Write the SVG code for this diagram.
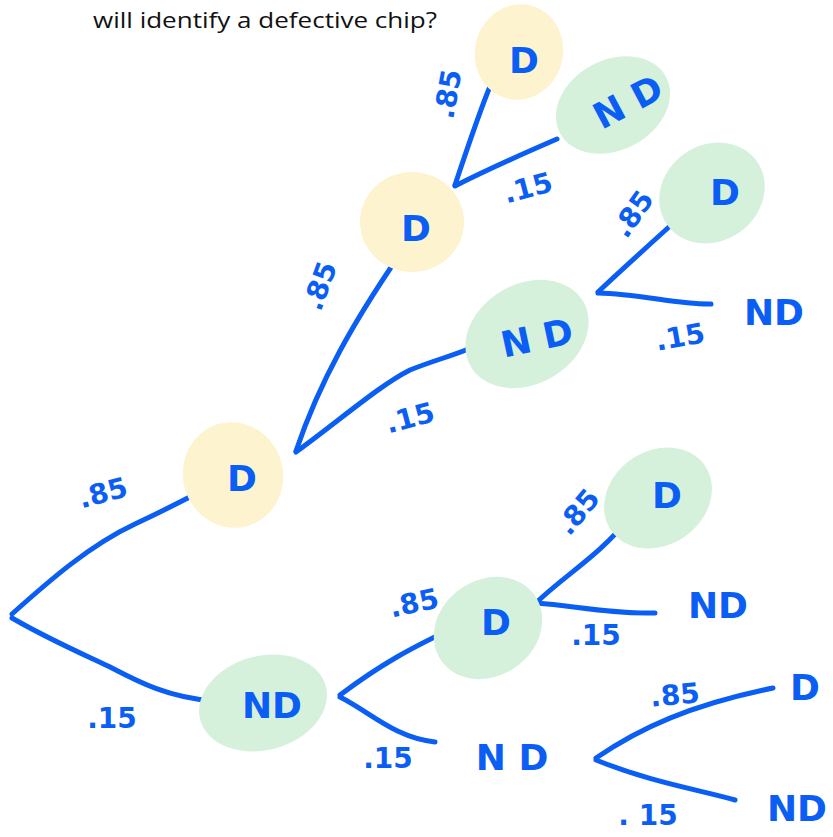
<svg xmlns="http://www.w3.org/2000/svg" width="833" height="837" viewBox="0 0 833 837">
<style>
.y{fill:#fdf3cf}
.g{fill:#d5f1dc}
.c{fill:none;stroke:#0a5ef4;stroke-width:5;stroke-linecap:round;stroke-linejoin:round}
.t{font-family:"DejaVu Sans",sans-serif;font-weight:bold;fill:#0a5ef4;text-anchor:middle;dominant-baseline:central}
.n{font-size:36px}
.p{font-size:28px}
.title{font-family:"Open Sans","Liberation Sans",Arial,sans-serif;font-size:22px;fill:#111}
</style>
<rect width="833" height="837" fill="#fff"/>
<text class="title" x="93" y="28" textLength="344" lengthAdjust="spacingAndGlyphs">will identify a defective chip?</text>

<g id="connectors" class="c">
<path d="M12,614 C50,580 90,545 135,524 C165,510 190,497 207,488"/>
<path d="M12,618 C50,640 85,655 108,666 C135,680 165,697 213,701"/>
<path d="M296,451 C320,380 355,320 398,257"/>
<path d="M296,452 C340,420 380,385 410,370 C435,360 455,355 468,349"/>
<path d="M455,185 C470,140 480,110 491,84"/>
<path d="M455,186 C490,168 520,155 557,139"/>
<path d="M598,292 C630,262 660,235 690,208"/>
<path d="M598,293 C640,294 680,305 711,304"/>
<path d="M340,695 C380,665 410,648 462,624"/>
<path d="M340,697 C370,712 395,738 435,742"/>
<path d="M537,602 C565,575 600,555 630,517"/>
<path d="M537,603 C575,606 610,614 655,613"/>
<path d="M596,758 C640,728 690,705 773,688"/>
<path d="M596,760 C650,782 700,790 735,800"/>
</g>

<g id="n-root-D">
<ellipse class="y" cx="233" cy="475" rx="50" ry="53" transform="rotate(-15 233 475)"/>
<text class="t n" x="242" y="478">D</text>
</g>
<g id="n-root-ND">
<ellipse class="g" cx="263" cy="703" rx="65" ry="47" transform="rotate(-15 263 703)"/>
<text class="t n" x="272" y="705">ND</text>
</g>
<g id="n-DD">
<ellipse class="y" cx="412" cy="222" rx="52" ry="50"/>
<text class="t n" x="416" y="228">D</text>
</g>
<g id="n-DND">
<ellipse class="g" cx="527" cy="334" rx="65" ry="50" transform="rotate(-30 527 334)"/>
<text class="t n" x="537" y="338" transform="rotate(-12 537 338)">N D</text>
</g>
<g id="n-DDD">
<ellipse class="y" cx="519" cy="52" rx="44" ry="48" transform="rotate(15 519 52)"/>
<text class="t n" x="524" y="60">D</text>
</g>
<g id="n-DDND">
<ellipse class="g" cx="613" cy="105" rx="60" ry="45" transform="rotate(-28 613 105)"/>
<text class="t n" x="628" y="102" transform="rotate(-28 628 102)">N D</text>
</g>
<g id="n-DNDD">
<ellipse class="g" cx="712" cy="193" rx="55" ry="48" transform="rotate(-35 712 193)"/>
<text class="t n" x="725" y="192">D</text>
</g>
<g id="n-DNDND">
<text class="t n" x="774" y="312">ND</text>
</g>
<g id="n-NDD">
<ellipse class="g" cx="488" cy="628" rx="57" ry="48" transform="rotate(-35 488 628)"/>
<text class="t n" x="496" y="622">D</text>
</g>
<g id="n-NDDD">
<ellipse class="g" cx="658" cy="498" rx="57" ry="47" transform="rotate(-35 658 498)"/>
<text class="t n" x="667" y="495">D</text>
</g>
<g id="n-NDDND">
<text class="t n" x="718" y="605">ND</text>
</g>
<g id="n-NDND">
<text class="t n" x="512" y="757">N D</text>
</g>
<g id="n-NDNDD">
<text class="t n" x="805" y="687">D</text>
</g>
<g id="n-NDNDND">
<text class="t n" x="797" y="808">ND</text>
</g>

<g id="labels">
<text class="t p" x="103" y="493" transform="rotate(-15 103 493)">.85</text>
<text class="t p" x="112" y="718">.15</text>
<text class="t p" x="320" y="286" transform="rotate(-70 320 286)">.85</text>
<text class="t p" x="410" y="418" transform="rotate(-15 410 418)">.15</text>
<text class="t p" x="448" y="94" transform="rotate(-80 448 94)">.85</text>
<text class="t p" x="528" y="188" transform="rotate(-15 528 188)">.15</text>
<text class="t p" x="633" y="214" transform="rotate(-55 633 214)">.85</text>
<text class="t p" x="680" y="337" transform="rotate(-10 680 337)">.15</text>
<text class="t p" x="414" y="603" transform="rotate(-12 414 603)">.85</text>
<text class="t p" x="578" y="512" transform="rotate(-50 578 512)">.85</text>
<text class="t p" x="596" y="635">.15</text>
<text class="t p" x="388" y="758">.15</text>
<text class="t p" x="675" y="695" transform="rotate(-5 675 695)">.85</text>
<text class="t p" x="648" y="815">. 15</text>
</g>
</svg>
